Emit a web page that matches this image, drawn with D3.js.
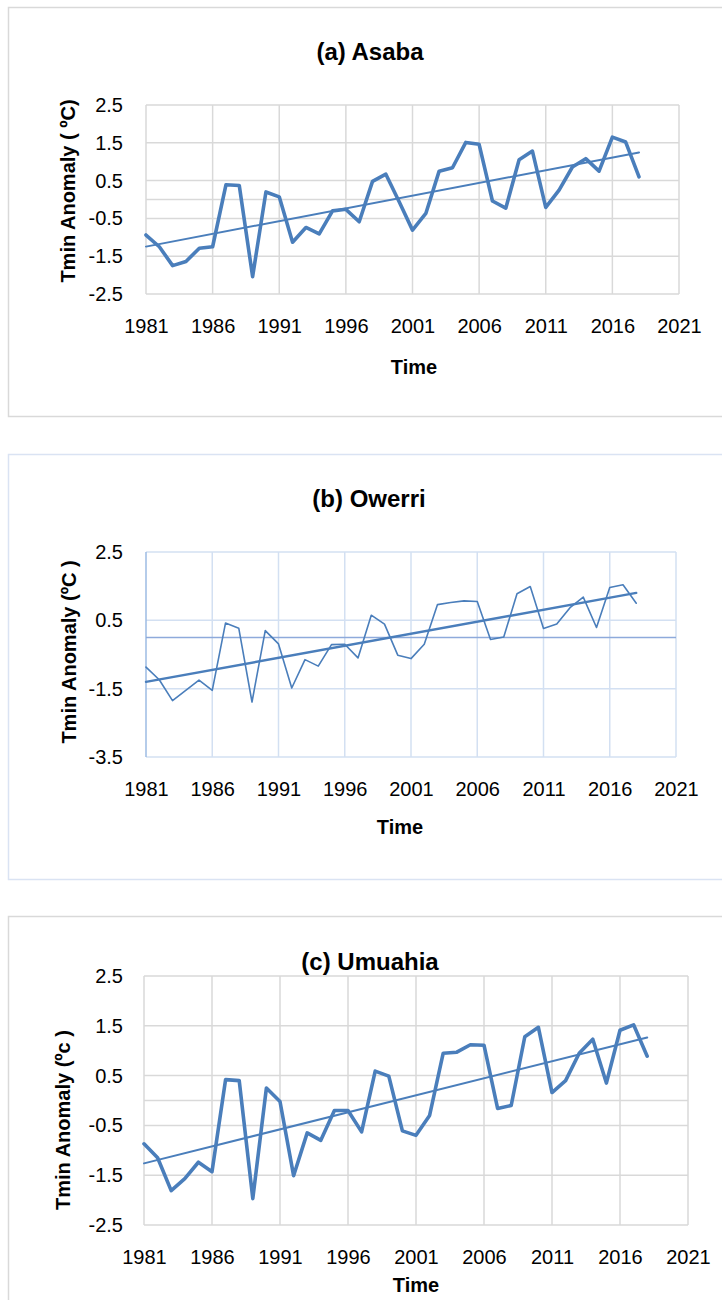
<!DOCTYPE html>
<meta charset="utf-8">
<style>

html, body {
  margin: 0;
  padding: 0;
  background: #fff;
}

svg {
  display: block;
}

text {
  font-family: Arial, "Liberation Sans", sans-serif;
  fill: #000;
}

.tick text {
  font-size: 20px;
}

.title {
  font-size: 24px;
  font-weight: bold;
  text-anchor: middle;
}

.axis-title {
  font-size: 20px;
  font-weight: bold;
  text-anchor: middle;
}

.series {
  fill: none;
  stroke: #4a7ebb;
  stroke-linejoin: round;
  stroke-linecap: round;
}

</style>
<svg width="722" height="1300"></svg>
<script src="https://d3js.org/d3.v7.min.js"></script>
<script>

var years = [1981, 1982, 1983, 1984, 1985, 1986, 1987, 1988, 1989, 1990,
             1991, 1992, 1993, 1994, 1995, 1996, 1997, 1998, 1999, 2000,
             2001, 2002, 2003, 2004, 2005, 2006, 2007, 2008, 2009, 2010,
             2011, 2012, 2013, 2014, 2015, 2016, 2017, 2018];

var asaba = [-0.94, -1.25, -1.75, -1.64, -1.29, -1.25, 0.39, 0.37, -2.04, 0.2,
             0.07, -1.13, -0.74, -0.91, -0.3, -0.26, -0.59, 0.48, 0.67, -0.06,
             -0.81, -0.37, 0.75, 0.84, 1.51, 1.46, -0.04, -0.23, 1.05, 1.28,
             -0.21, 0.25, 0.86, 1.08, 0.75, 1.65, 1.52, 0.6];

var owerri = [-0.87, -1.24, -1.85, -1.55, -1.25, -1.55, 0.42, 0.27, -1.89, 0.2,
              -0.19, -1.48, -0.65, -0.84, -0.21, -0.2, -0.6, 0.65, 0.39, -0.52,
              -0.62, -0.2, 0.96, 1.02, 1.07, 1.05, -0.06, 0.01, 1.28, 1.49,
              0.26, 0.39, 0.87, 1.18, 0.29, 1.46, 1.54, 1.0];

var umuahia = [-0.87, -1.15, -1.81, -1.57, -1.24, -1.43, 0.42, 0.4, -1.97, 0.25,
               -0.02, -1.51, -0.65, -0.8, -0.2, -0.2, -0.63, 0.59, 0.49, -0.61,
               -0.7, -0.3, 0.95, 0.97, 1.12, 1.11, -0.16, -0.1, 1.28, 1.47,
               0.16, 0.4, 0.95, 1.23, 0.35, 1.41, 1.52, 0.89];

var xTicks = [1981, 1986, 1991, 1996, 2001, 2006, 2011, 2016, 2021];
var yTicksOne = [-2.5, -1.5, -0.5, 0.5, 1.5, 2.5];
var yTicksTwo = [-3.5, -1.5, 0.5, 2.5];

var panels = [
  {
    title: "(a) Asaba", ylabel: "Tmin Anomaly ( ºC)", values: asaba,
    yDomain: [-2.5, 2.5], yTicks: yTicksOne,
    box: [8, 7, 720, 409], boxColor: "#d9d9d9",
    plot: [146, 679, 105, 294],
    grid: "#d9d9d9", zeroLine: "#d9d9d9", leftLine: "#d9d9d9",
    titlePos: [370, 60], timePos: [414, 374], ylabelPos: [75, 191],
    lineWidth: 3.6, trendWidth: 2
  },
  {
    title: "(b) Owerri", ylabel: "Tmin Anomaly (ºC )", values: owerri,
    yDomain: [-3.5, 2.5], yTicks: yTicksTwo,
    box: [8, 454, 720, 425], boxColor: "#dae3f3",
    plot: [146, 676, 552, 757],
    grid: "#d3e0f2", zeroLine: "#8eaadb", leftLine: "#9dbbe3",
    titlePos: [369, 507], timePos: [400, 834], ylabelPos: [76, 652],
    lineWidth: 1.6, trendWidth: 2.4
  },
  {
    title: "(c) Umuahia", ylabel: "Tmin Anomaly (ºc )", values: umuahia,
    yDomain: [-2.5, 2.5], yTicks: yTicksOne,
    box: [8, 916, 720, 400], boxColor: "#d9d9d9",
    plot: [144, 688, 976, 1225],
    grid: "#d9d9d9", zeroLine: "#d9d9d9", leftLine: "#d9d9d9",
    titlePos: [370, 970], timePos: [416, 1292], ylabelPos: [70, 1120],
    lineWidth: 3.6, trendWidth: 2
  }
];

// excel-style labels use a plain hyphen for negatives
var fmtY = function(d) { return d3.format(".1f")(d).replace("\u2212", "-"); };

var svg = d3.select("svg");

panels.forEach(function(p) {
  var g = svg.append("g");

  g.append("rect")
      .attr("x", p.box[0] + 0.5)
      .attr("y", p.box[1] + 0.5)
      .attr("width", p.box[2])
      .attr("height", p.box[3])
      .attr("fill", "#fff")
      .attr("stroke", p.boxColor)
      .attr("stroke-width", 1.5);

  var x = d3.scaleLinear().domain([1981, 2021]).range([p.plot[0], p.plot[1]]);
  var y = d3.scaleLinear().domain(p.yDomain).range([p.plot[3], p.plot[2]]);

  // gridlines
  g.append("g").selectAll("line")
    .data(p.yTicks)
    .enter().append("line")
      .attr("x1", p.plot[0]).attr("x2", p.plot[1])
      .attr("y1", function(d) { return y(d); })
      .attr("y2", function(d) { return y(d); })
      .attr("stroke", p.grid)
      .attr("stroke-width", 1.5);

  g.append("g").selectAll("line")
    .data(xTicks)
    .enter().append("line")
      .attr("y1", p.plot[2]).attr("y2", p.plot[3])
      .attr("x1", function(d) { return x(d); })
      .attr("x2", function(d) { return x(d); })
      .attr("stroke", function(d, i) { return i === 0 ? p.leftLine : p.grid; })
      .attr("stroke-width", 1.5);

  g.append("line")
      .attr("x1", p.plot[0]).attr("x2", p.plot[1])
      .attr("y1", y(0)).attr("y2", y(0))
      .attr("stroke", p.zeroLine)
      .attr("stroke-width", 1.5);

  // axis labels
  var xAxis = g.append("g")
      .attr("transform", "translate(0," + p.plot[3] + ")")
      .call(d3.axisBottom(x).tickValues(xTicks).tickFormat(d3.format("d")).tickSize(0).tickPadding(25));
  xAxis.select(".domain").remove();

  var yAxis = g.append("g")
      .attr("transform", "translate(" + p.plot[0] + ",0)")
      .call(d3.axisLeft(y).tickValues(p.yTicks).tickFormat(fmtY).tickSize(0).tickPadding(p.plot[0] - 123));
  yAxis.select(".domain").remove();
  g.selectAll(".tick text").attr("fill", "#000");

  // series
  var pts = years.map(function(yr, i) { return [yr, p.values[i]]; });
  var line = d3.line()
      .x(function(d) { return x(d[0]); })
      .y(function(d) { return y(d[1]); });

  // least-squares trend
  var mx = d3.mean(years), my = d3.mean(p.values);
  var sxy = d3.sum(years, function(yr, i) { return (yr - mx) * (p.values[i] - my); });
  var sxx = d3.sum(years, function(yr) { return (yr - mx) * (yr - mx); });
  var slope = sxy / sxx, icpt = my - slope * mx;
  var ends = d3.extent(years);
  var trend = ends.map(function(yr) { return [yr, icpt + slope * yr]; });

  g.append("path")
      .datum(pts)
      .attr("class", "series")
      .attr("stroke-width", p.lineWidth)
      .attr("d", line);

  g.append("path")
      .datum(trend)
      .attr("class", "series")
      .attr("stroke-width", p.trendWidth)
      .attr("d", line);

  // titles
  g.append("text")
      .attr("class", "title")
      .attr("x", p.titlePos[0])
      .attr("y", p.titlePos[1])
      .text(p.title);

  g.append("text")
      .attr("class", "axis-title")
      .attr("x", p.timePos[0])
      .attr("y", p.timePos[1])
      .text("Time");

  g.append("text")
      .attr("class", "axis-title")
      .attr("transform", "translate(" + p.ylabelPos[0] + "," + p.ylabelPos[1] + ") rotate(-90)")
      .text(p.ylabel);
});

</script>
